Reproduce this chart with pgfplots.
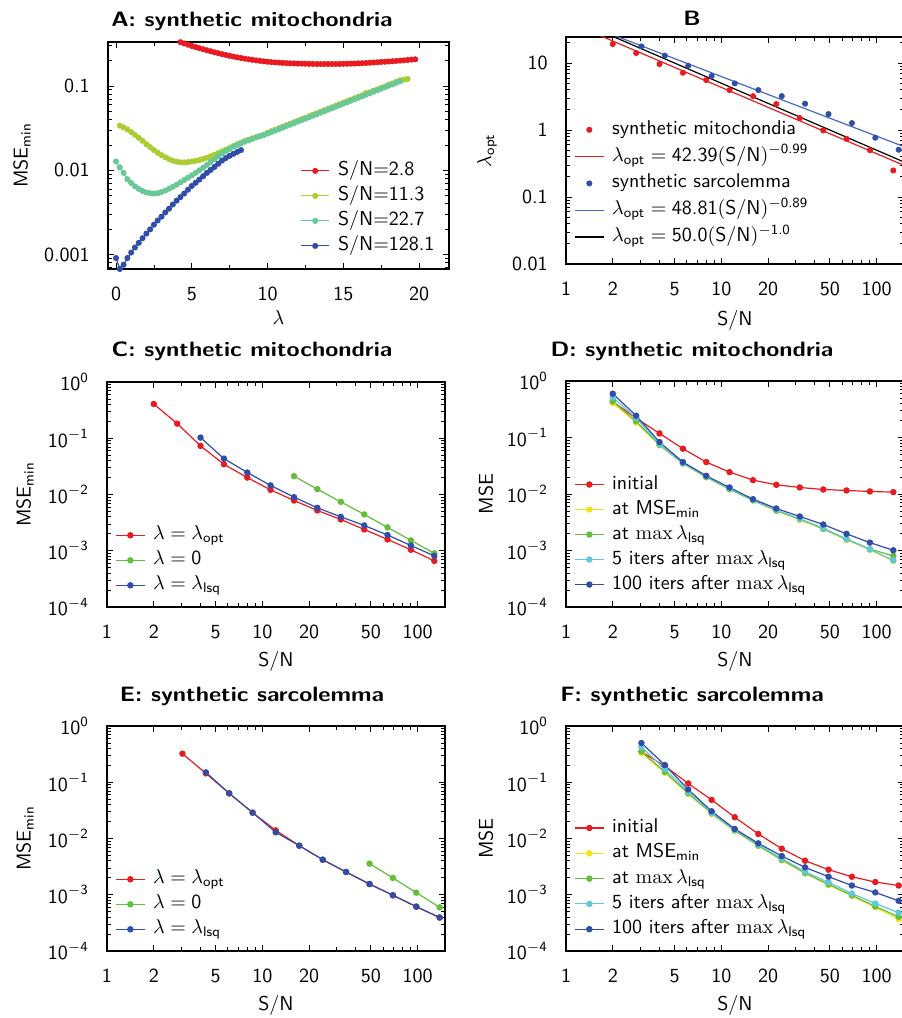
\documentclass[border=0pt]{standalone}
\usepackage{amsmath}
\usepackage{graphicx}
\usepackage{pgfplots}
\pgfplotsset{compat=1.18}
\renewcommand{\familydefault}{\sfdefault}

\definecolor{cred}{RGB}{232,28,32}
\definecolor{cblue}{RGB}{48,78,168}
\definecolor{clblue}{RGB}{70,105,195}
\definecolor{cyg}{RGB}{170,205,50}
\definecolor{cteal}{RGB}{105,200,150}
\definecolor{cgreen}{RGB}{100,190,60}
\definecolor{cyellow}{RGB}{240,228,20}
\definecolor{ccyan}{RGB}{95,200,220}

\newcommand{\ttl}[1]{\scalebox{1.14}[1]{#1}}

\pgfplotsset{
  every axis/.append style={
    scale only axis,
    font=\fontsize{10}{12}\selectfont\sffamily,
    tick align=inside,
    major tick length=3pt, minor tick length=1.8pt,
    every tick/.append style={black, line width=0.4pt},
    axis line style={line width=0.6pt},
    xticklabel style={yshift=-5.5pt},
    yticklabel style={xshift=-5.6pt},
    legend cell align=left,
    legend style={draw=none, fill=none, anchor=north west, inner sep=0pt,
      font=\fontsize{10}{12}\selectfont\sffamily,
      nodes={inner sep=1.5pt, text height=7pt, text depth=2.5pt},
      row sep=0pt, column sep=2.5pt},
    legend image code/.code={\draw[mark repeat=2,mark phase=2,#1]
      plot coordinates {(0cm,0cm) (0.25cm,0cm) (0.5cm,0cm)};},
  },
  sn/.style={xmin=1, xmax=150, width=169pt,
    xtick={1,2,5,10,20,50,100}, xticklabels={1,2,5,10,20,50,100},
    minor xtick={3,4,6,7,8,9,30,40,60,70,80,90}, xlabel={S/N}},
  msey/.style={ymin=1e-4, ymax=1,
    ytick={1e-4,1e-3,1e-2,1e-1,1},
    yticklabels={$\textsf{10}^{-\textsf{4}}$,$\textsf{10}^{-\textsf{3}}$,$\textsf{10}^{-\textsf{2}}$,$\textsf{10}^{-\textsf{1}}$,$\textsf{10}^{\textsf{0}}$},
    minor ytick={2e-4,3e-4,4e-4,5e-4,6e-4,7e-4,8e-4,9e-4,2e-3,3e-3,4e-3,5e-3,6e-3,7e-3,8e-3,9e-3,0.02,0.03,0.04,0.05,0.06,0.07,0.08,0.09,0.2,0.3,0.4,0.5,0.6,0.7,0.8,0.9}},
  pl/.style={line width=0.6pt, color=#1, mark=*, mark size=1.3pt, mark options={solid}},
  dots/.style={only marks, color=#1, mark=*, mark size=1.3pt},
}

\begin{document}
\begin{tikzpicture}
\useasboundingbox (0,0) rectangle (450.5pt,509pt);

% ---------- A ----------
\begin{axis}[at={(54pt,374.5pt)}, anchor=south west,
  width=170.5pt, height=113.5pt, ymode=log,
  xmin=-0.53, xmax=21.98, ymin=6.76e-4, ymax=0.3327,
  xtick={0,5,10,15,20}, xticklabels={0,5,10,15,20},
  minor xtick={2.5,7.5,12.5,17.5},
  ytick={0.001,0.01,0.1}, yticklabels={0.001,0.01,0.1},
  minor ytick={7e-4,8e-4,9e-4,2e-3,3e-3,4e-3,5e-3,6e-3,7e-3,8e-3,9e-3,0.02,0.03,0.04,0.05,0.06,0.07,0.08,0.09,0.2,0.3},
  xlabel={$\lambda$}, ylabel={MSE$_{\textsf{min}}$},
  xlabel style={at={(axis description cs:0.5,-0.216)}, anchor=center},
  ylabel style={at={(axis description cs:-0.252,0.5)}, anchor=center},
  legend style={at={(axis description cs:0.563,0.489)}},
]
\addplot[pl=cred, mark size=1.2pt] coordinates {
(4.25,0.3311)(4.5,0.3199)(4.75,0.3090)(5,0.2985)(5.25,0.2897)(5.5,0.2812)(5.75,0.2729)
(6,0.2655)(6.25,0.2582)(6.5,0.2512)(6.75,0.2449)(7,0.2388)(7.25,0.2333)(7.5,0.2280)
(7.75,0.2234)(8,0.2188)(8.25,0.2148)(8.5,0.2109)(8.75,0.2075)(9,0.2042)(9.25,0.2014)
(9.5,0.1986)(9.75,0.1963)(10,0.1941)(10.25,0.1923)(10.5,0.1905)(10.75,0.1892)(11,0.1879)
(11.25,0.1871)(11.5,0.1862)(11.75,0.1854)(12,0.1845)(12.25,0.1841)(12.5,0.1837)(12.75,0.1832)
(13,0.1828)(13.25,0.1824)(13.5,0.1824)(13.75,0.1824)(14,0.1824)(14.25,0.1824)(14.5,0.1824)
(14.75,0.1828)(15,0.1832)(15.25,0.1837)(15.5,0.1841)(15.75,0.1849)(16,0.1858)(16.25,0.1866)
(16.5,0.1875)(16.75,0.1888)(17,0.1901)(17.25,0.1914)(17.5,0.1928)(17.75,0.1941)(18,0.1954)
(18.25,0.1968)(18.5,0.1982)(18.75,0.2000)(19,0.2018)(19.25,0.2037)(19.5,0.2056)(19.75,0.2075)};
\addlegendentry{S/N=2.8}
\addplot[pl=cyg, mark size=1.2pt] coordinates {
(0.25,3.388e-2)(0.5,3.236e-2)(0.75,3.055e-2)(1,2.851e-2)(1.25,2.630e-2)(1.5,2.427e-2)
(1.75,2.239e-2)(2,2.042e-2)(2.25,1.884e-2)(2.5,1.738e-2)(2.75,1.622e-2)(3,1.514e-2)
(3.25,1.429e-2)(3.5,1.355e-2)(3.75,1.303e-2)(4,1.268e-2)(4.25,1.245e-2)(4.5,1.245e-2)
(4.75,1.253e-2)(5,1.274e-2)(5.25,1.297e-2)(5.5,1.324e-2)(5.75,1.365e-2)(6,1.413e-2)
(6.25,1.469e-2)(6.5,1.531e-2)(6.75,1.603e-2)(7,1.679e-2)(7.25,1.762e-2)(7.5,1.849e-2)
(7.75,1.945e-2)(8,2.042e-2)(8.25,2.133e-2)(8.5,2.228e-2)(8.75,2.312e-2)(9,2.399e-2)
(9.25,2.477e-2)(9.5,2.559e-2)(9.75,2.642e-2)(10,2.786e-2)(10.25,2.917e-2)(10.5,3.034e-2)
(10.75,3.162e-2)(11,3.296e-2)(11.25,3.436e-2)(11.5,3.572e-2)(11.75,3.723e-2)(12,3.882e-2)
(12.25,4.046e-2)(12.5,4.208e-2)(12.75,4.385e-2)(13,4.571e-2)(13.25,4.753e-2)(13.5,4.954e-2)
(13.75,5.164e-2)(14,5.383e-2)(14.25,5.597e-2)(14.5,5.834e-2)(14.75,6.082e-2)(15,6.339e-2)
(15.25,6.592e-2)(15.5,6.870e-2)(15.75,7.161e-2)(16,7.464e-2)(16.25,7.762e-2)(16.5,8.25e-2)
(16.75,8.434e-2)(17,8.790e-2)(17.25,9.141e-2)(17.5,9.527e-2)(17.75,9.930e-2)(18,0.1035)
(18.25,0.1076)(18.5,0.1122)(18.75,0.1170)(19,0.1190)(19.25,0.1210)};
\addlegendentry{S/N=11.3}
\addplot[pl=cteal, mark size=1.2pt] coordinates {
(0,1.274e-2)(0.25,1.084e-2)(0.5,9.33e-3)(0.75,7.85e-3)(1,7.08e-3)(1.25,6.46e-3)(1.5,6.03e-3)
(1.75,5.69e-3)(2,5.47e-3)(2.25,5.35e-3)(2.5,5.31e-3)(2.75,5.37e-3)(3,5.52e-3)(3.25,5.75e-3)
(3.5,6.05e-3)(3.75,6.38e-3)(4,6.76e-3)(4.25,7.19e-3)(4.5,7.67e-3)(4.75,8.17e-3)(5,8.71e-3)
(5.25,9.33e-3)(5.5,1.000e-2)(5.75,1.072e-2)(6,1.161e-2)(6.25,1.259e-2)(6.5,1.355e-2)
(6.75,1.462e-2)(7,1.585e-2)(7.25,1.698e-2)(7.5,1.799e-2)(7.75,1.905e-2)(8,1.995e-2)
(8.25,2.089e-2)(8.5,2.188e-2)(8.75,2.265e-2)(9,2.355e-2)(9.25,2.455e-2)(9.5,2.541e-2)
(9.75,2.630e-2)(10,2.723e-2)(10.25,2.838e-2)(10.5,2.951e-2)(10.75,3.076e-2)(11,3.206e-2)
(11.25,3.342e-2)(11.5,3.475e-2)(11.75,3.622e-2)(12,3.776e-2)(12.25,3.936e-2)(12.5,4.093e-2)
(12.75,4.266e-2)(13,4.446e-2)(13.25,4.624e-2)(13.5,4.819e-2)(13.75,5.023e-2)(14,5.236e-2)
(14.25,5.445e-2)(14.5,5.675e-2)(14.75,5.916e-2)(15,6.166e-2)(15.25,6.412e-2)(15.5,6.683e-2)
(15.75,6.966e-2)(16,7.261e-2)(16.25,7.551e-2)(16.5,7.870e-2)(16.75,8.204e-2)(17,8.551e-2)
(17.25,8.892e-2)(17.5,9.268e-2)(17.75,9.660e-2)(18,0.1007)(18.25,0.1047)(18.5,0.1091)(18.75,0.1138)};
\addlegendentry{S/N=22.7}
\addplot[pl=cblue, mark size=1.2pt] coordinates {
(0,9.12e-4)(0.25,6.76e-4)(0.5,7.59e-4)(0.75,9.12e-4)(1,1.059e-3)(1.25,1.216e-3)(1.5,1.380e-3)
(1.75,1.567e-3)(2,1.778e-3)(2.25,1.995e-3)(2.5,2.265e-3)(2.75,2.541e-3)(3,2.818e-3)
(3.25,3.162e-3)(3.5,3.508e-3)(3.75,3.936e-3)(4,4.365e-3)(4.25,4.81e-3)(4.5,5.31e-3)
(4.75,5.89e-3)(5,6.53e-3)(5.25,7.11e-3)(5.5,7.76e-3)(5.75,8.51e-3)(6,9.33e-3)(6.25,1.012e-2)
(6.5,1.096e-2)(6.75,1.197e-2)(7,1.303e-2)(7.25,1.396e-2)(7.5,1.486e-2)(7.75,1.570e-2)
(8,1.652e-2)(8.25,1.738e-2)};
\addlegendentry{S/N=128.1}
\end{axis}

% ---------- B ----------
\begin{axis}[at={(283pt,377pt)}, anchor=south west, xmode=log, ymode=log, sn,
  height=113.5pt, ymin=0.01, ymax=24.5,
  ytick={0.01,0.1,1,10}, yticklabels={0.01,0.1,1,10},
  minor ytick={0.02,0.03,0.04,0.05,0.06,0.07,0.08,0.09,0.2,0.3,0.4,0.5,0.6,0.7,0.8,0.9,2,3,4,5,6,7,8,9,20},
  ylabel={$\lambda_{\textsf{opt}}$},
  xlabel style={at={(axis description cs:0.5,-0.247)}, anchor=center},
  ylabel style={at={(axis description cs:-0.234,0.5)}, anchor=center},
  legend style={at={(axis description cs:0.024,0.648)}, row sep=0.9pt},
]
\addplot[dots=cred] coordinates {(2,19.2)(2.83,14.1)(4,9.66)(5.66,7.17)(8,5.57)(11.3,3.95)(16,3.21)(22.6,2.44)(32,1.51)(45.3,0.986)(64,0.74)(90.5,0.50)(128,0.249)};
\addlegendentry{synthetic mitochondia}
\addplot[cred, line width=0.6pt, no marks] coordinates {(1.6,26.6)(150,0.297)};
\addlegendentry{$\lambda_{\textsf{opt}} = \textsf{42.39}(\textsf{S/N})^{-\textsf{0.99}}$}
\addplot[dots=cblue] coordinates {(3.06,17.7)(4.33,12.9)(6.12,9.12)(8.66,6.4)(12.2,4.97)(17.3,3.95)(24.5,3.21)(34.6,2.47)(49,1.73)(69.3,1.27)(98,0.768)(138.6,0.508)};
\addlegendentry{synthetic sarcolemma}
\addplot[clblue, line width=0.6pt, no marks] coordinates {(1.9,27.57)(150,0.565)};
\addlegendentry{$\lambda_{\textsf{opt}} = \textsf{48.81}(\textsf{S/N})^{-\textsf{0.89}}$}
\addplot[black, line width=0.6pt, no marks] coordinates {(1.9,26.32)(150,0.3333)};
\addlegendentry{$\lambda_{\textsf{opt}} = \textsf{50.0}(\textsf{S/N})^{-\textsf{1.0}}$}
\end{axis}

% ---------- C ----------
\begin{axis}[at={(53.5pt,205.5pt)}, anchor=south west, xmode=log, ymode=log, sn, msey, height=112.5pt,
  ylabel={MSE$_{\textsf{min}}$},
  xlabel style={at={(axis description cs:0.5,-0.24)}, anchor=center},
  ylabel style={at={(axis description cs:-0.243,0.5)}, anchor=center},
  legend style={at={(axis description cs:0.024,0.376)}},
]
\addplot[pl=cred] coordinates {(2,0.407)(2.83,0.182)(4,0.0731)(5.66,0.0345)(8,0.020)(11.3,0.0121)(16,0.00782)(22.6,0.0052)(32,0.0036)(45.3,0.00239)(64,0.00159)(90.5,0.00104)(128,0.00066)};
\addlegendentry{$\lambda = \lambda_{\textsf{opt}}$}
\addplot[pl=cgreen] coordinates {(16,0.0212)(22.6,0.01244)(32,0.0074)(45.3,0.00442)(64,0.0026)(90.5,0.00153)(128,0.000897)};
\addlegendentry{$\lambda = \textsf{0}$}
\addplot[pl=cblue] coordinates {(4,0.1028)(5.66,0.0435)(8,0.0246)(11.3,0.0145)(16,0.00897)(22.6,0.0058)(32,0.00401)(45.3,0.00282)(64,0.0019)(90.5,0.00124)(128,0.00081)};
\addlegendentry{$\lambda = \lambda_{\textsf{lsq}}$}
\end{axis}

% ---------- D ----------
\begin{axis}[at={(283pt,205.5pt)}, anchor=south west, xmode=log, ymode=log, sn, msey, height=113pt,
  ylabel={MSE},
  xlabel style={at={(axis description cs:0.5,-0.24)}, anchor=center},
  ylabel style={at={(axis description cs:-0.237,0.5)}, anchor=center},
  legend style={at={(axis description cs:0.024,0.599)}},
]
\addplot[pl=cred] coordinates {(2,0.43)(2.83,0.22)(4,0.118)(5.66,0.0633)(8,0.0367)(11.3,0.0244)(16,0.0176)(22.6,0.01456)(32,0.01305)(45.3,0.0120)(64,0.01155)(90.5,0.0111)(128,0.0108)};
\addlegendentry{initial}
\addplot[pl=cyellow] coordinates {(2,0.408)(2.83,0.185)(4,0.073)(5.66,0.0345)(8,0.0198)(11.3,0.0121)(16,0.0077)(22.6,0.0050)(32,0.0035)(45.3,0.0024)(64,0.00155)(90.5,0.00103)(128,0.00065)};
\addlegendentry{at MSE$_{\textsf{min}}$}
\addplot[pl=cgreen] coordinates {(2,0.436)(2.83,0.193)(4,0.0744)(5.66,0.035)(8,0.0200)(11.3,0.0122)(16,0.0077)(22.6,0.0051)(32,0.0036)(45.3,0.00242)(64,0.00158)(90.5,0.00106)(128,0.000803)};
\addlegendentry{at $\max\lambda_{\textsf{lsq}}$}
\addplot[pl=ccyan] coordinates {(2,0.514)(2.83,0.221)(4,0.0755)(5.66,0.0348)(8,0.0204)(11.3,0.01236)(16,0.0078)(22.6,0.0052)(32,0.00364)(45.3,0.00248)(64,0.0016)(90.5,0.00105)(128,0.000673)};
\addlegendentry{5 iters after $\max\lambda_{\textsf{lsq}}$}
\addplot[pl=cblue] coordinates {(2,0.596)(2.83,0.243)(4,0.083)(5.66,0.0367)(8,0.0210)(11.3,0.01305)(16,0.0081)(22.6,0.00554)(32,0.0040)(45.3,0.00289)(64,0.00197)(90.5,0.00138)(128,0.00101)};
\addlegendentry{100 iters after $\max\lambda_{\textsf{lsq}}$}
\end{axis}

% ---------- E ----------
\begin{axis}[at={(53.5pt,33.5pt)}, anchor=south west, xmode=log, ymode=log, sn, msey, height=112.5pt,
  ylabel={MSE$_{\textsf{min}}$},
  xlabel style={at={(axis description cs:0.5,-0.242)}, anchor=center},
  ylabel style={at={(axis description cs:-0.243,0.5)}, anchor=center},
  legend style={at={(axis description cs:0.024,0.376)}},
]
\addplot[pl=cred] coordinates {(3.06,0.322)(4.33,0.144)(6.12,0.0635)(8.66,0.0288)(12.2,0.01397)(17.3,0.00746)(24.5,0.0042)(34.6,0.00254)(49,0.00155)(69.3,0.00098)(98,0.000614)(138.6,0.000392)};
\addlegendentry{$\lambda = \lambda_{\textsf{opt}}$}
\addplot[pl=cgreen] coordinates {(49,0.00357)(69.3,0.00199)(98,0.00109)(138.6,0.000597)};
\addlegendentry{$\lambda = \textsf{0}$}
\addplot[pl=cblue] coordinates {(4.33,0.150)(6.12,0.0635)(8.66,0.0288)(12.2,0.0129)(17.3,0.00746)(24.5,0.0042)(34.6,0.00254)(49,0.00155)(69.3,0.00098)(98,0.000614)(138.6,0.000395)};
\addlegendentry{$\lambda = \lambda_{\textsf{lsq}}$}
\end{axis}

% ---------- F ----------
\begin{axis}[at={(283pt,33.5pt)}, anchor=south west, xmode=log, ymode=log, sn, msey, height=112.5pt,
  ylabel={MSE},
  xlabel style={at={(axis description cs:0.5,-0.242)}, anchor=center},
  ylabel style={at={(axis description cs:-0.237,0.5)}, anchor=center},
  legend style={at={(axis description cs:0.024,0.604)}, row sep=0.15pt},
]
\addplot[pl=cred] coordinates {(3.06,0.35)(4.33,0.194)(6.12,0.0952)(8.66,0.0486)(12.2,0.0239)(17.3,0.01205)(24.5,0.00659)(34.6,0.00403)(49,0.00279)(69.3,0.00209)(98,0.00168)(138.6,0.00146)};
\addlegendentry{initial}
\addplot[pl=cyellow] coordinates {(3.06,0.33)(4.33,0.148)(6.12,0.062)(8.66,0.0275)(12.2,0.0137)(17.3,0.0074)(24.5,0.0041)(34.6,0.0024)(49,0.0015)(69.3,0.00095)(98,0.0006)(138.6,0.000368)};
\addlegendentry{at MSE$_{\textsf{min}}$}
\addplot[pl=cgreen] coordinates {(3.06,0.352)(4.33,0.153)(6.12,0.064)(8.66,0.0280)(12.2,0.0139)(17.3,0.0075)(24.5,0.00419)(34.6,0.00244)(49,0.00153)(69.3,0.00098)(98,0.00062)(138.6,0.000406)};
\addlegendentry{at $\max\lambda_{\textsf{lsq}}$}
\addplot[pl=ccyan] coordinates {(3.06,0.423)(4.33,0.171)(6.12,0.0676)(8.66,0.0285)(12.2,0.0142)(17.3,0.00775)(24.5,0.00438)(34.6,0.00257)(49,0.00166)(69.3,0.00105)(98,0.0007)(138.6,0.00048)};
\addlegendentry{5 iters after $\max\lambda_{\textsf{lsq}}$}
\addplot[pl=cblue] coordinates {(3.06,0.498)(4.33,0.202)(6.12,0.0744)(8.66,0.0305)(12.2,0.0148)(17.3,0.0082)(24.5,0.00488)(34.6,0.00307)(49,0.00209)(69.3,0.00146)(98,0.0011)(138.6,0.00078)};
\addlegendentry{100 iters after $\max\lambda_{\textsf{lsq}}$}
\end{axis}

% ---------- titles ----------
\begin{scope}[every node/.style={font=\fontsize{10.4}{12}\selectfont\bfseries\sffamily, anchor=base}]
\node at (126pt,495.75pt) {\ttl{A: synthetic mitochondria}};
\node at (346pt,496pt) {\ttl{B}};
\node at (126pt,330.5pt) {\ttl{C: synthetic mitochondria}};
\node at (346pt,330.5pt) {\ttl{D: synthetic mitochondria}};
\node at (126pt,158.25pt) {\ttl{E: synthetic sarcolemma}};
\node at (346pt,158.25pt) {\ttl{F: synthetic sarcolemma}};
\end{scope}
\end{tikzpicture}
\end{document}
